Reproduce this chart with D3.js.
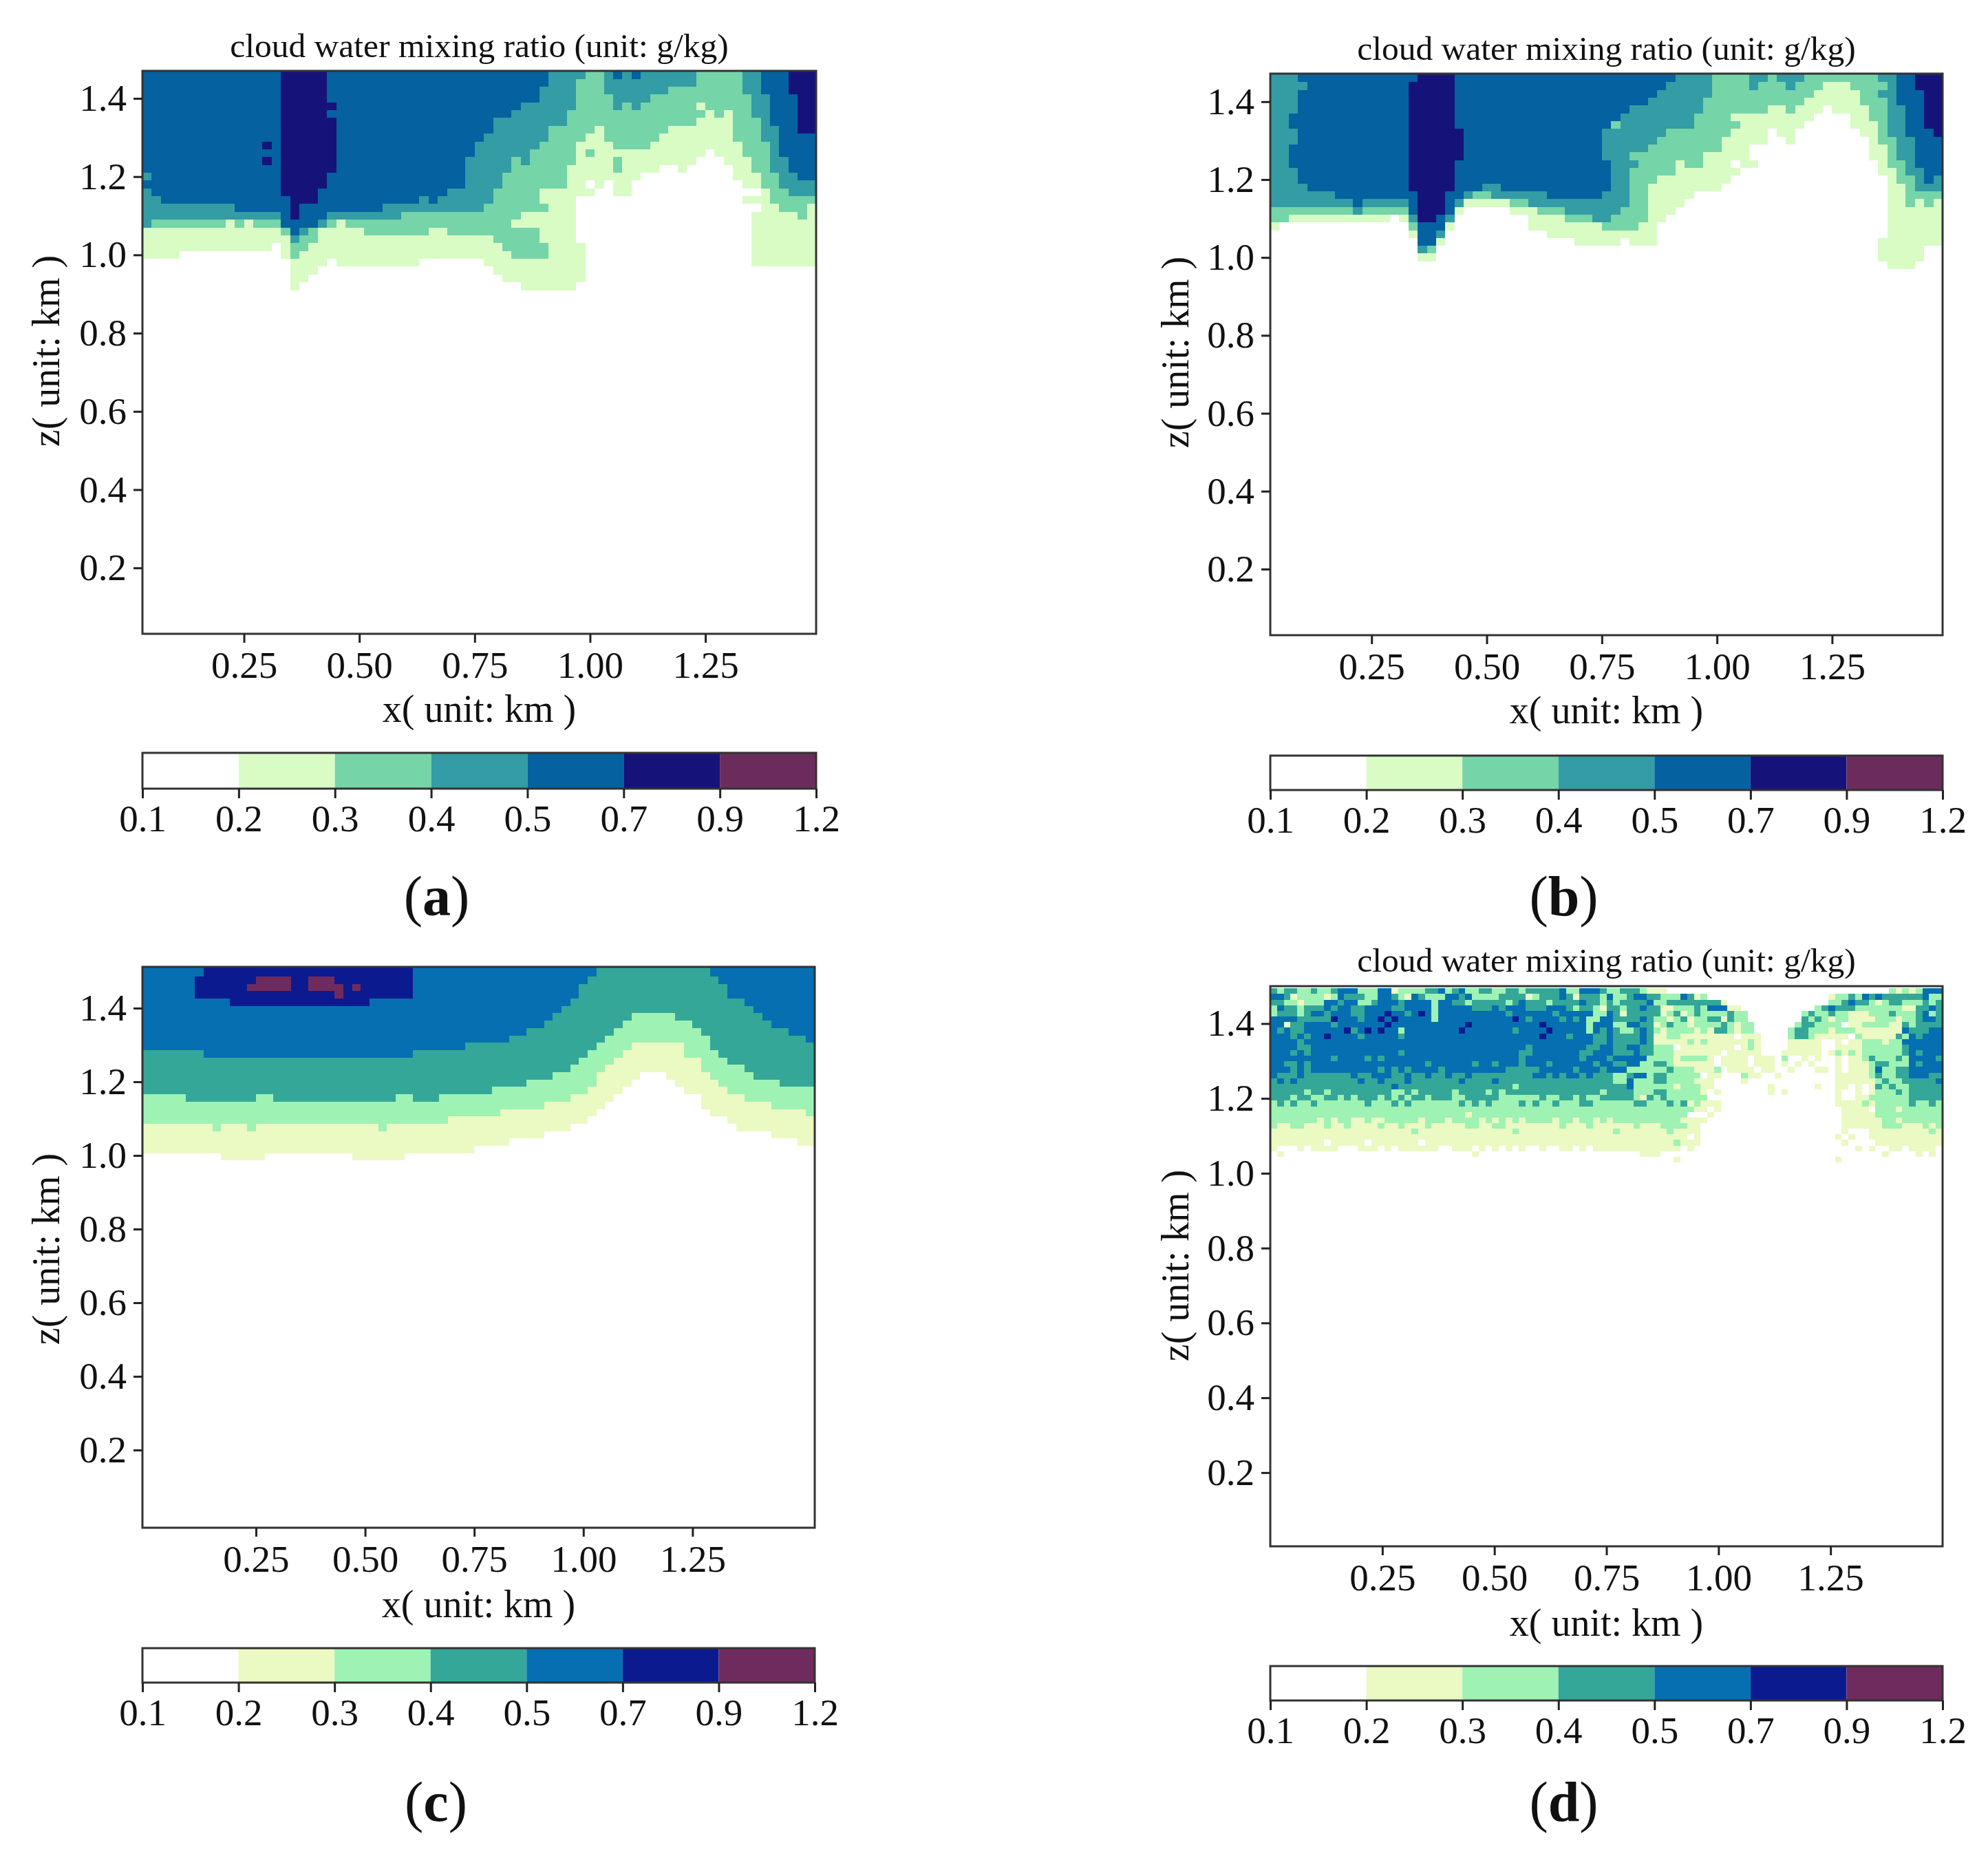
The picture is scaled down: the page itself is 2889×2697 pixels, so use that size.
<!DOCTYPE html>
<html>
<head>
<meta charset="utf-8">
<script src="https://cdnjs.cloudflare.com/ajax/libs/d3/7.8.5/d3.min.js"></script>
<style>
  html, body { margin: 0; padding: 0; background: #fff; }
  text { font-family: "Liberation Serif", serif; fill: #111; }
</style>
</head>
<body>
<svg id="chart" width="2889" height="2697"></svg>
<script>
// colour classes of the mixing ratio, g/kg
var barLabels = ["0.1", "0.2", "0.3", "0.4", "0.5", "0.7", "0.9", "1.2"];
var classBreaks = [0.2, 0.3, 0.4, 0.5, 0.7, 0.9];
var classValues = [0.15, 0.25, 0.35, 0.45, 0.6, 0.8, 1.05];
var coolColors = ["#ffffff", "#d9fcc5", "#75d4a8", "#339ca4", "#0561a0", "#15137a", "#6b2c5c"];
var paleColors = ["#ffffff", "#ebf9c2", "#9ef2b3", "#34a798", "#066fb1", "#0c1a8f", "#6f2b5d"];

var xTickValues = [0.25, 0.5, 0.75, 1.0, 1.25];
var zTickValues = [0.2, 0.4, 0.6, 0.8, 1.0, 1.2, 1.4];
var titleText = "cloud water mixing ratio (unit: g/kg)";

// each row, from the top of the grid: "startColumn:class" runs
var rowsA = [
  "0:4 15:5 20:4 44:3 48:2 50:3 51:4 52:3 53:4 54:3 60:2 65:3 67:4 70:5",
  "0:4 15:5 20:4 44:3 47:2 50:3 60:2 65:3 67:4 70:5",
  "0:4 15:5 20:4 43:3 47:2 50:3 57:2 65:3 67:4 70:5",
  "0:4 15:5 20:4 43:3 47:2 51:3 55:2 66:3 68:4 71:5",
  "0:4 15:5 21:4 41:3 47:2 51:3 52:2 53:3 54:2 60:1 61:2 66:3 68:4 71:5",
  "0:4 15:5 20:4 40:3 46:2 61:1 62:2 63:1 64:2 66:3 68:4 71:5",
  "0:4 15:5 21:4 38:3 46:2 60:1 64:2 67:3 68:4 71:5",
  "0:4 15:5 21:4 38:3 44:2 49:1 50:2 57:1 64:2 67:3 69:4 71:5",
  "0:4 15:5 21:4 37:3 44:2 48:1 50:2 56:1 64:2 67:3 69:4",
  "0:4 13:5 14:4 15:5 21:4 36:3 43:2 47:1 51:2 55:1 65:2 68:3 69:4",
  "0:4 15:5 21:4 36:3 42:2 47:1 48:2 49:1 61:0 62:1 65:2 68:3 69:4",
  "0:4 13:5 14:4 15:5 21:4 35:3 40:2 41:3 42:2 47:1 51:2 52:1 60:0 63:1 66:2 68:3 70:4",
  "0:4 15:5 21:4 35:3 40:2 46:1 51:2 52:1 56:0 58:1 59:0 64:1 66:2 68:3 70:4",
  "0:3 1:4 15:5 20:4 35:3 39:2 46:1 54:0 64:1 67:2 69:3 71:4",
  "0:4 15:5 20:4 35:3 39:2 46:1 48:0 49:1 50:0 51:1 53:0 65:1 67:2 69:3",
  "0:3 1:4 15:5 19:4 33:3 38:2 43:1 49:0 51:1 53:0 66:0 67:1 68:2 70:3",
  "0:3 2:4 16:5 19:4 30:3 31:4 32:3 38:2 43:1 47:0 65:1 68:2",
  "0:3 10:4 16:5 17:4 26:3 37:2 44:1 47:0 67:1 69:2 72:1",
  "0:3 15:4 16:5 17:4 20:3 28:2 41:1 47:0 66:1 71:2 72:1",
  "0:3 1:2 9:1 10:2 11:1 12:2 15:4 19:3 20:2 21:1 22:2 40:1 47:0 66:1",
  "0:1 15:2 16:4 17:3 18:2 19:1 24:2 31:1 33:2 43:1 47:0 66:1",
  "0:1 16:3 17:2 19:1 38:2 43:1 47:0 66:1",
  "0:1 14:0 15:1 16:2 18:1 39:2 44:1 48:0 66:1",
  "0:1 4:0 15:1 16:2 17:1 40:2 44:1 48:0 66:1",
  "0:0 16:1 20:0 21:1 30:0 37:1 48:0 66:1",
  "0:0 16:1 19:0 38:1 48:0",
  "0:0 16:1 18:0 39:1 48:0",
  "0:0 16:1 17:0 41:1 47:0"
];

var rowsB = [
  "0:3 3:4 16:5 20:4 44:3 48:2 52:3 54:2 55:3 58:2 66:3 68:4 70:5",
  "0:3 4:4 15:5 20:4 43:3 48:2 52:3 53:2 56:3 57:2 60:1 63:2 67:3 68:4 70:5",
  "0:3 3:4 15:5 20:4 42:3 48:2 59:1 64:2 66:3 68:4 71:5",
  "0:3 3:4 15:5 20:4 41:3 47:2 58:1 64:2 67:3 68:4 71:5",
  "0:3 3:4 15:5 20:4 39:3 47:2 54:1 56:2 57:1 60:0 61:1 65:2 67:3 69:4 71:5",
  "0:3 2:4 15:5 20:4 38:3 46:2 50:1 59:0 63:1 65:2 67:3 69:4 71:5",
  "0:3 2:4 15:5 20:4 37:2 38:3 46:2 51:1 58:0 63:1 66:2 67:3 69:4 71:5",
  "0:3 3:4 15:5 21:4 36:3 43:2 50:1 54:0 55:1 57:0 64:1 66:2 67:3 69:4 72:5",
  "0:3 3:4 15:5 21:4 36:3 42:2 49:1 54:0 56:1 57:0 65:1 66:2 68:3 70:4",
  "0:3 2:4 15:5 21:4 36:3 41:2 49:1 52:0 65:1 67:2 68:3 70:4",
  "0:3 2:4 15:5 21:4 36:3 39:2 47:1 52:0 65:1 67:2 68:3 70:4",
  "0:3 2:4 15:5 20:4 37:3 40:2 44:1 45:2 47:1 50:0 51:1 53:0 66:1 67:2 69:3 70:4",
  "0:3 3:4 15:5 20:4 37:3 39:2 44:1 51:0 66:1 68:2 69:3 71:4",
  "0:3 3:4 15:5 20:4 37:3 39:2 42:1 50:0 67:1 68:2 70:3 71:4 72:3",
  "0:3 4:4 15:5 20:4 23:3 25:4 37:3 39:2 41:1 49:0 67:1 69:2 70:3",
  "0:3 7:4 16:5 19:4 21:3 22:2 24:3 30:4 36:3 39:2 41:1 46:0 67:1 69:2",
  "0:3 9:4 10:3 15:4 16:5 19:4 20:3 21:1 26:2 28:3 39:2 41:1 45:0 67:1 69:2 70:1 71:2 72:1",
  "0:2 9:3 10:2 15:4 16:5 19:4 20:1 21:0 26:1 29:2 32:3 38:2 41:1 44:0 67:1",
  "0:2 2:1 13:0 14:1 15:3 16:5 18:4 19:3 20:0 28:1 32:2 35:3 37:2 41:1 43:0 67:1",
  "0:1 1:0 15:2 16:4 19:1 20:0 28:1 36:2 40:1 42:0 67:1",
  "0:0 15:1 16:4 18:3 19:0 30:1 42:0 67:1",
  "0:0 16:4 18:1 19:0 33:1 38:0 39:1 42:0 66:1",
  "0:0 16:3 17:2 18:0 66:1 71:0",
  "0:0 16:1 18:0 66:1 71:0",
  "0:0 67:1 70:0"
];

var rowsC = [
  "0:4 7:5 31:4 52:3 65:4",
  "0:4 7:5 31:4 52:3 65:4",
  "0:4 6:5 13:6 17:5 19:6 22:5 31:4 51:3 66:4",
  "0:4 6:5 12:6 17:5 19:6 23:5 24:6 25:5 31:4 50:3 67:4",
  "0:4 6:5 22:6 23:5 31:4 50:3 67:4",
  "0:4 10:5 26:4 49:3 69:4",
  "0:4 48:3 70:4",
  "0:4 47:3 56:2 61:3 71:4",
  "0:4 46:3 55:2 63:3 72:4",
  "0:4 44:3 54:2 64:3 74:4",
  "0:4 42:3 53:2 65:3 76:4",
  "0:4 37:3 52:2 56:1 62:2 65:3",
  "0:3 7:4 31:3 51:2 55:1 62:2 66:3",
  "0:3 50:2 54:1 64:2 67:3",
  "0:3 49:2 53:1 64:2 69:3",
  "0:3 47:2 52:1 57:0 60:1 65:2 70:3",
  "0:3 44:2 52:1 56:0 61:1 66:2 73:3",
  "0:3 40:2 51:1 55:0 62:1 67:2",
  "0:2 5:3 13:2 15:3 29:2 31:3 34:2 49:1 54:0 64:1 69:2",
  "0:2 46:1 53:0 64:1 72:2",
  "0:2 41:1 52:0 65:1 76:2",
  "0:2 35:1 51:0 67:1",
  "0:1 8:2 9:1 12:2 13:1 27:2 28:1 49:0 68:1",
  "0:1 46:0 72:1",
  "0:1 42:0 75:1",
  "0:1 38:0",
  "0:0 9:1 14:0 24:1 30:0"
];

var rowsD = [
  "0:3 1:2 2:3 4:2 6:3 7:2 9:3 10:4 13:2 16:4 18:1 19:2 23:3 25:4 26:2 27:3 28:4 29:2 31:3 33:2 35:3 37:2 38:3 43:4 44:2 46:4 49:3 50:2 52:3 55:2 56:1 59:0 92:2 93:1 94:2 95:1 96:2 97:4",
  "0:4 2:3 3:1 4:2 8:1 9:2 10:4 11:3 14:2 16:4 18:3 19:2 20:1 21:4 22:3 23:2 26:4 28:3 29:4 30:2 34:3 38:1 39:2 40:3 43:4 44:3 45:1 46:3 49:2 50:4 51:2 53:3 54:4 56:3 58:2 61:4 62:3 63:1 64:2 65:0 83:1 84:2 86:3 87:2 88:4 89:3 90:4 91:3 97:4 98:2",
  "0:3 2:2 4:1 5:2 8:4 10:3 11:4 13:2 15:3 16:4 19:3 20:4 24:2 25:4 27:3 29:2 30:3 35:2 36:3 37:4 38:3 41:2 42:3 46:4 47:3 49:2 50:3 51:2 52:3 56:4 57:2 59:3 67:1 68:0 83:2 85:3 86:4 87:3 89:2 90:1 91:2 92:3 94:2 97:3 98:2 99:3",
  "0:2 1:4 2:3 4:2 5:3 8:4 9:3 10:4 12:3 14:4 18:3 20:4 24:2 25:4 30:3 33:4 34:3 35:4 38:3 41:4 44:3 45:2 46:3 48:2 49:1 50:3 52:2 53:3 55:4 56:3 58:1 60:2 63:3 64:2 65:4 68:1 70:0 81:2 82:3 83:4 84:3 87:2 94:1 96:3 98:4 99:3",
  "0:2 1:3 4:2 5:3 6:4 8:3 9:4 12:3 14:4 17:5 18:4 20:3 21:4 22:5 23:4 24:2 25:4 35:3 36:4 42:3 43:4 48:2 50:4 51:3 52:1 53:3 58:1 59:2 60:3 61:1 62:2 63:3 64:2 68:3 69:2 71:0 79:2 80:3 81:2 83:3 84:2 86:1 89:2 92:3 93:2 96:3 97:4 98:2 99:3",
  "0:4 4:3 9:5 10:4 13:3 14:4 16:5 17:4 18:5 19:4 24:2 25:4 36:5 37:4 38:3 39:4 43:3 44:4 45:3 46:4 47:2 49:4 51:3 55:4 56:3 57:2 59:1 60:2 61:3 62:1 63:2 65:3 67:1 68:3 69:2 71:0 79:3 80:2 81:3 82:2 83:1 84:2 86:1 90:2 93:1 94:2 96:3 97:4 99:3",
  "0:4 2:1 3:3 5:4 9:3 10:4 17:5 18:4 29:5 30:4 40:5 41:4 47:2 48:4 51:2 53:4 55:3 57:1 58:2 59:3 60:2 62:1 63:2 67:3 68:2 69:1 70:2 72:0 78:2 79:3 81:2 85:0 86:1 88:2 92:1 94:3 95:2 96:3",
  "0:4 1:3 2:4 3:3 5:4 11:5 12:3 13:4 14:5 15:4 16:5 17:4 19:2 20:4 28:5 29:4 36:3 37:4 41:5 42:4 47:2 48:4 49:3 50:4 51:3 52:2 54:3 55:4 56:3 57:2 58:1 59:2 63:1 64:2 65:1 66:3 68:2 69:1 70:2 72:0 77:2 78:3 80:2 83:1 84:2 87:1 94:4 95:3 98:4",
  "0:4 3:3 4:4 5:3 6:4 8:5 9:4 13:3 14:4 19:3 20:4 40:5 41:4 44:3 45:4 48:3 50:4 51:3 55:4 56:3 57:1 59:2 61:1 69:0 70:1 73:0 77:2 78:3 80:2 81:1 86:0 87:2 88:1 93:3 94:2 95:4 96:3 97:4",
  "0:4 4:3 5:4 48:3 50:4 51:3 55:4 56:3 57:1 62:2 63:1 64:2 65:1 71:2 72:1 73:0 77:1 82:0 84:1 85:0 86:1 88:2 91:1 92:2 94:4",
  "0:4 4:3 6:4 38:3 39:4 47:3 49:4 51:3 53:4 55:3 57:2 60:0 61:1 69:0 70:1 71:2 72:1 73:0 77:1 82:0 84:1 88:2 94:3 95:4",
  "0:4 3:3 4:4 5:3 6:4 19:3 20:4 37:3 39:4 46:3 48:4 51:3 54:4 55:3 57:2 60:1 67:0 68:1 73:0 76:1 82:0 83:1 84:2 85:1 86:2 87:1 88:2 94:3 95:4 96:3 97:4",
  "0:4 9:3 10:4 14:3 15:4 16:3 17:4 37:3 38:4 46:3 47:4 50:3 51:4 56:2 60:1 61:2 65:1 66:0 67:1 71:0 72:1 75:0 76:2 77:0 79:1 80:0 81:1 82:0 84:1 85:0 86:1 88:2 89:3 90:2 93:3 94:2 95:4 99:3",
  "0:4 2:3 4:4 5:3 6:4 23:3 24:4 30:3 31:4 33:3 34:4 37:3 38:4 41:3 42:4 48:3 49:4 51:3 53:4 55:2 57:3 59:2 60:1 66:0 67:1 71:0 72:1 75:0 76:1 77:0 78:1 79:0 80:1 81:0 84:1 85:0 86:1 89:2 90:3 92:2 95:4 96:3 97:4",
  "0:4 3:3 4:4 5:3 6:4 16:3 17:4 18:3 19:4 20:3 21:4 25:3 26:4 35:3 40:4 45:3 46:4 49:3 50:4 53:2 59:3 60:2 63:1 66:2 67:0 68:1 72:0 73:1 75:0 77:1 78:0 81:1 83:0 84:1 85:0 86:1 89:2 90:4 91:2 93:3 95:4",
  "0:4 1:3 4:4 5:3 12:4 13:3 15:4 18:3 20:4 21:3 23:4 24:3 26:4 27:3 29:4 30:3 39:4 41:3 42:4 43:3 44:4 46:3 47:4 48:3 51:2 53:3 54:4 56:2 57:3 59:2 64:0 65:1 67:0 70:2 71:1 73:0 75:1 76:0 84:1 89:2 90:3 91:2 93:3 95:4 98:3",
  "0:3 1:4 2:3 3:4 4:3 13:4 14:3 16:4 17:3 20:4 21:3 28:4 29:3 33:4 34:3 51:2 53:4 54:2 57:3 59:2 63:1 66:0 70:1 71:0 84:1 90:2 91:3 92:2 94:3 99:4",
  "0:3 18:4 19:3 36:2 37:3 53:4 54:2 60:1 61:2 64:1 66:0 74:1 75:0 81:1 82:0 84:1 86:0 87:1 88:0 89:1 90:3 91:2 92:3 93:2 95:3",
  "0:3 5:2 6:3 8:2 9:3 18:2 20:3 21:2 22:3 27:2 28:3 32:2 33:3 34:2 35:3 49:2 50:3 54:2 57:3 59:2 64:1 65:0 66:1 67:0 74:1 75:0 76:1 77:0 84:1 85:0 87:1 88:0 89:1 90:2 93:3 94:2 95:3",
  "0:3 3:2 4:3 6:2 8:3 10:2 11:3 12:2 13:3 16:2 17:3 18:2 19:3 20:2 21:3 23:2 24:3 27:2 29:3 34:2 40:3 41:2 43:3 45:2 46:3 47:2 49:3 54:2 55:1 56:3 57:2 58:3 59:2 65:0 84:1 85:0 87:1 89:2 95:3",
  "0:2 1:3 2:2 3:3 4:2 6:3 7:2 14:3 15:2 18:3 19:2 20:3 21:2 28:3 29:2 30:3 31:2 32:3 33:2 37:3 38:2 39:3 40:2 42:3 43:2 46:3 48:2 54:3 56:2 59:3 60:2 61:3 62:1 63:2 64:1 67:0 84:1 88:2 89:1 90:2 95:3 96:2 98:3 99:2",
  "0:2 63:1 65:0 66:1 67:0 85:1 89:0 90:2 93:1 94:2",
  "0:2 29:1 30:2 62:0 65:1 66:0 85:1 90:2",
  "0:2 7:1 8:2 9:1 10:2 12:1 14:2 15:1 17:2 22:1 23:2 26:1 27:2 31:1 32:2 33:1 34:2 35:1 36:2 37:1 38:2 42:1 43:2 45:1 46:2 48:1 49:2 50:1 51:2 61:1 65:0 85:1 91:2 93:1 94:2",
  "0:2 1:1 3:2 5:1 8:2 9:1 11:2 12:1 16:2 17:1 19:2 20:1 23:2 24:1 29:2 31:1 33:2 35:1 43:2 44:1 47:2 48:1 54:2 55:1 58:2 62:1 64:0 85:1 91:2 94:1 97:2 98:1 99:2",
  "0:1 21:2 22:1 36:2 37:1 51:2 52:1 59:2 60:1 64:0 85:1 86:0 89:1 98:2 99:1",
  "0:1 62:0 63:1 64:0 84:1 85:0 86:1 87:0 89:1",
  "0:1 8:0 9:1 14:0 15:1 22:0 23:1 60:2 61:1 64:0 85:1 86:0 90:1",
  "0:1 1:0 4:1 5:0 6:1 10:0 13:1 16:0 17:1 18:0 19:1 25:0 27:1 30:0 31:1 32:0 33:1 34:0 35:1 36:0 37:1 38:0 40:1 41:0 43:1 45:0 46:1 47:0 48:1 61:0 62:1 63:0 87:1 88:0 89:1 90:0 92:1 94:0 95:1 99:0",
  "0:0 1:1 2:0 30:1 31:0 55:1 58:0 91:1 92:0 96:1 97:0 98:1 99:0",
  "0:0 60:1 61:0 84:1 85:0"
];

var panels = [
  {id: "a", rows: rowsA, colors: coolColors, cols: 73, dx: 0.02, dz: 0.02, zStart: 1.47,
   xDomain: [0.03, 1.49], zDomain: [0.0315, 1.4703], box: [207, 103, 1186, 921],
   title: 83, xLabelY: 1049, zLabelX: 86, zLabelY: 510,
   bar: [1094, 1146], letterY: 1330},
  {id: "b", rows: rowsB, colors: coolColors, cols: 73, dx: 0.02, dz: 0.02, zStart: 1.47,
   xDomain: [0.03, 1.49], zDomain: [0.0303, 1.472], box: [1846, 107, 2823, 923],
   title: 87, xLabelY: 1051, zLabelX: 1727, zLabelY: 512,
   bar: [1098, 1148], letterY: 1330},
  {id: "c", rows: rowsC, colors: paleColors, cols: 77, dx: 0.02, dz: 0.02, zStart: 1.526,
   xDomain: [-0.01, 1.53], zDomain: [-0.011, 1.512], box: [207, 1405, 1184, 2220],
   title: null, xLabelY: 2350, zLabelX: 86, zLabelY: 1815,
   bar: [2395, 2445], letterY: 2646},
  {id: "d", rows: rowsD, colors: paleColors, cols: 100, dx: 0.015, dz: 0.015, zStart: 1.494,
   xDomain: [0, 1.5], zDomain: [0.003, 1.5], box: [1846, 1433, 2823, 2247],
   title: 1412, xLabelY: 2377, zLabelX: 1727, zLabelY: 1839,
   bar: [2421, 2471], letterY: 2646}
];

var svg = d3.select("#chart");
var tickFont = 55;

function parseRuns(row, cols) {
  var parts = row.split(" ").map(function(p) { return p.split(":").map(Number); });
  return parts.map(function(p, i) {
    var end = i + 1 < parts.length ? parts[i + 1][0] : cols;
    return {start: p[0], end: end, level: p[1], value: classValues[p[1]]};
  });
}

function styleAxis(sel) {
  sel.selectAll(".domain").remove();
  sel.selectAll("line").attr("stroke", "#222").attr("stroke-width", 3);
  sel.selectAll("text").style("font-size", tickFont + "px").attr("fill", "#111");
}

panels.forEach(function(p) {
  var left = p.box[0], top = p.box[1], right = p.box[2], bottom = p.box[3];
  var x = d3.scaleLinear().domain(p.xDomain).range([left, right]);
  var z = d3.scaleLinear().domain(p.zDomain).range([bottom, top]);
  var color = d3.scaleThreshold().domain(classBreaks).range(p.colors);

  var clipId = "clip-" + p.id;
  svg.append("clipPath").attr("id", clipId).append("rect")
      .attr("x", left).attr("y", top)
      .attr("width", right - left).attr("height", bottom - top);

  var g = svg.append("g").attr("class", "panel-" + p.id);

  g.append("g").attr("clip-path", "url(#" + clipId + ")")
    .selectAll("g")
    .data(p.rows)
    .enter().append("g")
    .each(function(row, r) {
      var zHigh = p.zStart - r * p.dz, zLow = zHigh - p.dz;
      d3.select(this).selectAll("rect")
        .data(parseRuns(row, p.cols).filter(function(d) { return d.level > 0; }))
        .enter().append("rect")
          .attr("x", function(d) { return x(p.xDomain[0] + d.start * p.dx); })
          .attr("width", function(d) { return x(p.xDomain[0] + d.end * p.dx) - x(p.xDomain[0] + d.start * p.dx); })
          .attr("y", z(zHigh))
          .attr("height", z(zLow) - z(zHigh))
          .attr("shape-rendering", "crispEdges")
          .attr("fill", function(d) { return color(d.value); });
    });

  // frame
  g.append("rect")
      .attr("x", left).attr("y", top)
      .attr("width", right - left).attr("height", bottom - top)
      .attr("fill", "none").attr("stroke", "#333").attr("stroke-width", 3);

  g.append("g")
      .attr("transform", "translate(0," + bottom + ")")
      .call(d3.axisBottom(x).tickValues(xTickValues).tickFormat(d3.format(".2f"))
        .tickSize(13).tickPadding(12))
      .call(styleAxis);

  g.append("g")
      .attr("transform", "translate(" + left + ",0)")
      .call(d3.axisLeft(z).tickValues(zTickValues).tickFormat(d3.format(".1f"))
        .tickSize(13).tickPadding(10))
      .call(styleAxis);

  if (p.title !== null) {
    g.append("text")
        .attr("x", (left + right) / 2).attr("y", p.title)
        .attr("text-anchor", "middle")
        .style("font-size", "49.5px")
        .text(titleText);
  }

  g.append("text")
      .attr("x", (left + right) / 2).attr("y", p.xLabelY)
      .attr("text-anchor", "middle")
      .style("font-size", "56px")
      .text("x( unit: km )");

  g.append("text")
      .attr("transform", "translate(" + p.zLabelX + "," + p.zLabelY + ") rotate(-90)")
      .attr("text-anchor", "middle")
      .style("font-size", "56px")
      .text("z( unit: km )");

  // colour bar, evenly spaced classes
  var barX = d3.scalePoint().domain(barLabels).range([left, right]);
  var bar = g.append("g");
  bar.selectAll("rect")
    .data(classValues)
    .enter().append("rect")
      .attr("x", function(d, i) { return barX(barLabels[i]); })
      .attr("width", function(d, i) { return barX(barLabels[i + 1]) - barX(barLabels[i]); })
      .attr("y", p.bar[0])
      .attr("height", p.bar[1] - p.bar[0])
      .attr("fill", function(d) { return color(d); });
  bar.append("rect")
      .attr("x", left).attr("y", p.bar[0])
      .attr("width", right - left).attr("height", p.bar[1] - p.bar[0])
      .attr("fill", "none").attr("stroke", "#333").attr("stroke-width", 3);
  g.append("g")
      .attr("transform", "translate(0," + p.bar[1] + ")")
      .call(d3.axisBottom(barX).tickSize(14).tickPadding(9))
      .call(styleAxis);

  // panel letter, bold between plain brackets
  var letter = g.append("text")
      .attr("x", (left + right) / 2 - 62).attr("y", p.letterY)
      .attr("text-anchor", "middle")
      .style("font-size", "82px");
  letter.append("tspan").text("(");
  letter.append("tspan").style("font-weight", "bold").text(p.id);
  letter.append("tspan").text(")");
});
</script>
</body>
</html>
